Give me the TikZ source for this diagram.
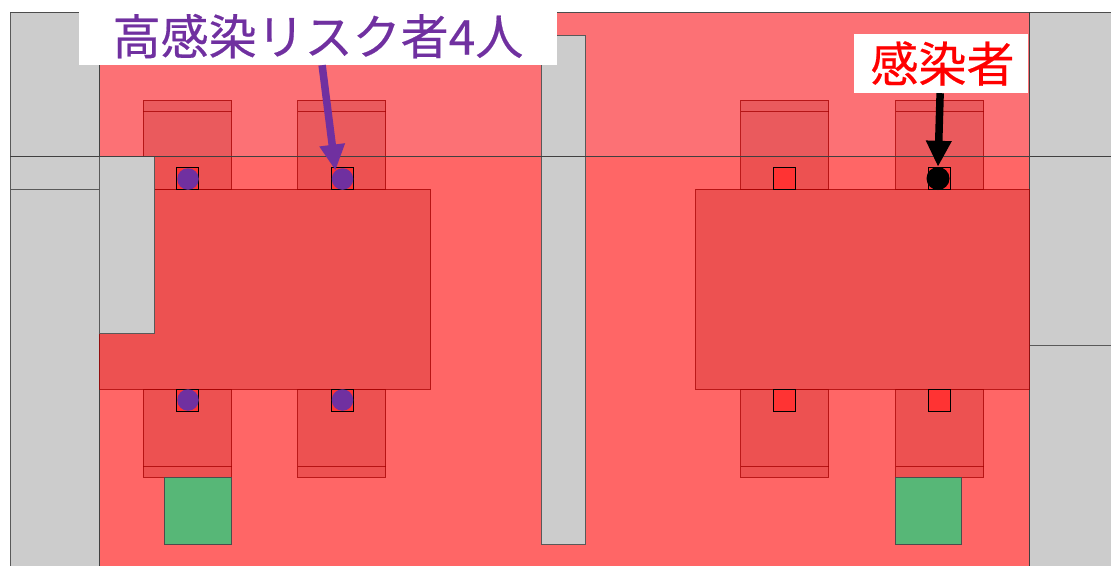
\documentclass[tikz,border=0pt]{standalone}
\usepackage{fontspec}
\usepackage{xcolor}
\usetikzlibrary{arrows.meta,positioning}
\newfontfamily\cjk[FakeBold=0.4]{Noto Sans CJK JP}
\definecolor{wallgray}{HTML}{CCCCCC}
\definecolor{zoneupper}{HTML}{FC7175}
\definecolor{zonelower}{HTML}{FF6666}
\definecolor{furnred}{HTML}{A50000}
\definecolor{seatred}{HTML}{FF3333}
\definecolor{doorgreen}{HTML}{57B777}
\definecolor{riskpurple}{HTML}{7030A0}

\begin{document}
\begin{tikzpicture}[
    x=1pt, y=-1pt,
    wall/.style={draw=black!65, fill=wallgray, line width=1pt},
    furn/.style={draw=furnred, draw opacity=0.75, fill=furnred, fill opacity=0.2, line width=1pt},
    seat/.style={draw=black, fill=seatred, line width=1pt},
    door/.style={draw=black!70, fill=doorgreen, line width=1pt},
    person/.style={circle, inner sep=0pt, minimum size=21.5pt},
    tag/.style={fill=white, inner sep=0pt, font=\cjk\fontsize{48}{48}\selectfont},
    pointer/.style={-{Triangle[length=26pt, width=24pt]}, line width=7.5pt}
]
    \useasboundingbox (0,0) rectangle (1111,565);

    % Walls
    \draw[wall] (10,12) rectangle (99,580);
    \draw[wall] (1029,12) rectangle (1125,580);
    \draw[wall] (10,189) -- (99,189);
    \draw[wall] (1029,345) -- (1125,345);

    % Room
    \fill[zoneupper] (99,12) rectangle (1029,156);
    \fill[zonelower] (99,156) rectangle (1029,580);
    \draw[black!70, line width=1pt] (10,12) -- (1125,12);
    \draw[black!75, line width=1pt] (99,12) -- (99,580);
    \draw[black!75, line width=1pt] (1029,12) -- (1029,580);

    % Upper chairs
    \draw[furn] (143,100) rectangle (231.6,189);
    \draw[furn] (143,111) -- (231.6,111);
    \draw[furn] (297.6,100) rectangle (385.6,189);
    \draw[furn] (297.6,111) -- (385.6,111);
    \draw[furn] (740.6,100) rectangle (828.6,189);
    \draw[furn] (740.6,111) -- (828.6,111);
    \draw[furn] (895.6,100) rectangle (983.6,189);
    \draw[furn] (895.6,111) -- (983.6,111);

    % Lower chairs
    \draw[furn] (143,389) rectangle (231.6,477);
    \draw[furn] (143,466) -- (231.6,466);
    \draw[furn] (297.6,389) rectangle (385.6,477);
    \draw[furn] (297.6,466) -- (385.6,466);
    \draw[furn] (740.6,389) rectangle (828.6,477);
    \draw[furn] (740.6,466) -- (828.6,466);
    \draw[furn] (895.6,389) rectangle (983.6,477);
    \draw[furn] (895.6,466) -- (983.6,466);

    % Tables
    \draw[furn] (99,189) rectangle (430.6,389);
    \draw[furn] (695.8,189) rectangle (1029,389);

    % Wall block and pillar
    \draw[wall] (99,156) rectangle (154.6,333);
    \draw[wall] (541.6,35) rectangle (585.6,544);

    % Zone line
    \draw[black!75, line width=1pt] (10,156) -- (1125,156);

    % Doors
    \draw[door] (164.8,477) rectangle (231.6,544);
    \draw[door] (895.6,477) rectangle (961.6,544);

    % Seats
    \draw[seat] (176.6,167) rectangle (198.6,189);
    \draw[seat] (331.6,167) rectangle (353.6,189);
    \draw[seat] (773.6,167) rectangle (795.6,189);
    \draw[seat] (928.6,167) rectangle (950.6,189);
    \draw[seat] (176.6,389) rectangle (198.6,411);
    \draw[seat] (331.6,389) rectangle (353.6,411);
    \draw[seat] (773.6,389) rectangle (795.6,411);
    \draw[seat] (928.6,389) rectangle (950.6,411);

    % People
    \node[person, fill=riskpurple] (riskA) at (188,179) {};
    \node[person, fill=riskpurple] (riskB) at (342.5,179) {};
    \node[person, fill=riskpurple] (riskC) at (188,400) {};
    \node[person, fill=riskpurple] (riskD) at (342.5,400) {};
    \node[person, fill=black, minimum size=23pt] (infected) at (938,178.5) {};

    % Labels
    \node[tag, text=riskpurple, minimum width=478pt, minimum height=65pt, text height=44pt, text depth=0pt] (risklabel) at (318,32.5) {高感染リスク者4人};
    \node[tag, text=red, minimum width=174pt, minimum height=59pt] (infectedlabel) at (941,63.5) {\hspace*{3pt}感染者};

    % Arrows
    \draw[pointer, riskpurple] (risklabel) -- (riskB.130);
    \draw[pointer, black] (infectedlabel) -- (infected.north);

\end{tikzpicture}
\end{document}
